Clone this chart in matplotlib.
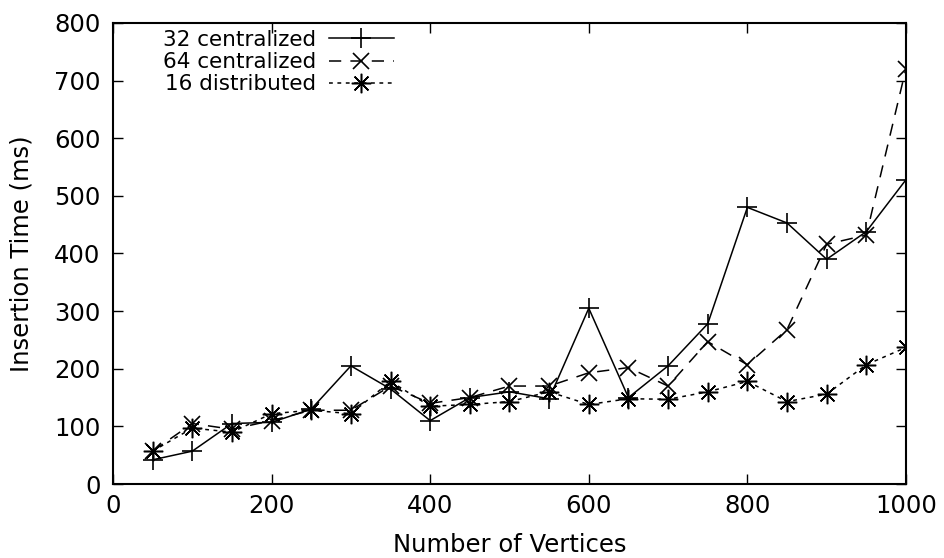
import matplotlib
matplotlib.use('Agg')
import matplotlib.pyplot as plt

# Insertion time vs number of vertices
vertices = [50, 100, 150, 200, 250, 300, 350, 400, 450, 500,
            550, 600, 650, 700, 750, 800, 850, 900, 950, 1000]
central_32 = [42, 57, 105, 107, 130, 205, 165, 110, 150, 160,
              148, 305, 150, 205, 278, 480, 453, 390, 438, 528]
central_64 = [57, 105, 95, 110, 128, 128, 170, 140, 150, 170,
              170, 193, 202, 170, 247, 207, 268, 416, 432, 721]
distrib_16 = [57, 97, 90, 122, 128, 122, 178, 135, 138, 143,
              160, 138, 148, 147, 160, 178, 143, 156, 207, 237]

plt.rcParams['font.family'] = 'DejaVu Sans'

fig = plt.figure(figsize=(9.44, 5.58), dpi=100)
ax = fig.add_axes([0.1197, 0.1326, 0.9597 - 0.1197, 0.9588 - 0.1326])

lw = 1.1
ax.plot(vertices, central_32, color='black', lw=lw, marker='+',
        markersize=14, markeredgewidth=1.2, label='32 centralized')
ax.plot(vertices, central_64, color='black', lw=lw, marker='x',
        markersize=11, markeredgewidth=1.2, dashes=(8, 6), label='64 centralized')
ax.plot(vertices, distrib_16, color='black', lw=lw, marker=(8, 2, 0),
        markersize=14, markeredgewidth=1.1, dashes=(2.5, 3), label='16 distributed')

ax.set_xlim(0, 1000)
ax.set_ylim(0, 800)
ax.set_xticks(range(0, 1001, 200))
ax.set_yticks(range(0, 801, 100))
ax.tick_params(direction='in', length=7, width=1, top=True, right=True,
               labelsize=17.5)
ax.tick_params(axis='x', pad=7)
ax.tick_params(axis='y', pad=9)
for s in ax.spines.values():
    s.set_linewidth(1.5)

ax.set_xlabel('Number of Vertices', fontsize=17.5, labelpad=11)
ax.set_ylabel('Insertion Time (ms)', fontsize=17.5, labelpad=15)

ax.legend(loc='upper left', bbox_to_anchor=(0.063, 0.985), frameon=False,
          markerfirst=False, fontsize=15.5, handlelength=3.0, handletextpad=0.6,
          labelspacing=0.1, borderpad=0, borderaxespad=0)

fig.savefig('out.png', dpi=100)
